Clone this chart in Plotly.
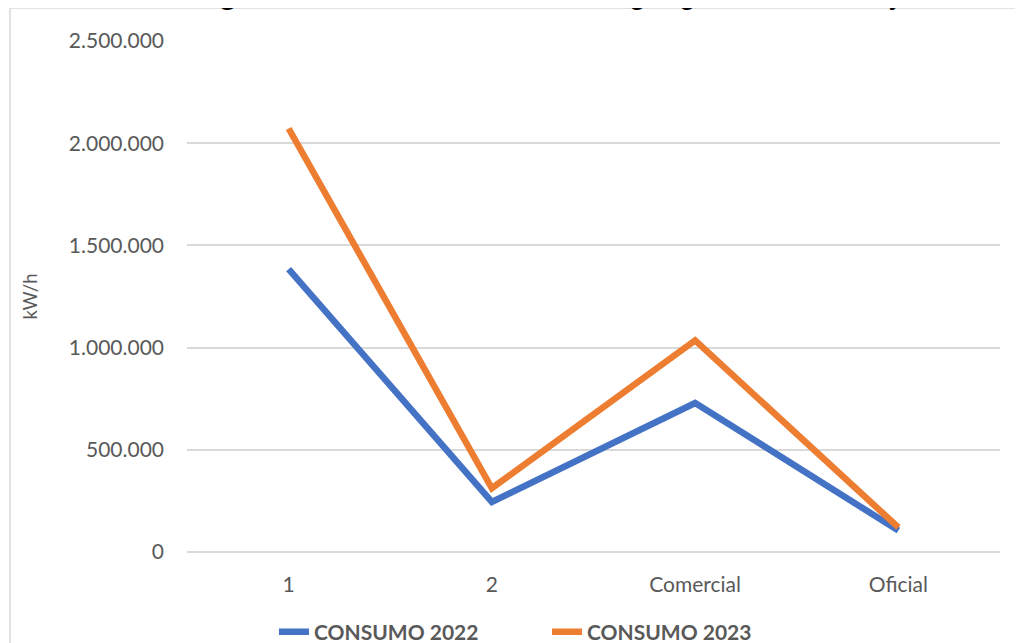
import plotly.graph_objects as go

categories = ["1", "2", "Comercial", "Oficial"]
consumo_2022 = [1384000, 245000, 729000, 105000]
consumo_2023 = [2072000, 312000, 1035000, 120000]
series_names = ["CONSUMO 2022", "CONSUMO 2023"]
y_ticks = [0, 500000, 1000000, 1500000, 2000000, 2500000]
title_text = "<b>Figura 1.</b> Consumo total de energía generada 2022 y 2023"

FONT = "Lato"
GRAY = "#595959"

fig = go.Figure()
for name, vals, color in [(series_names[0], consumo_2022, "#4472C4"),
                          (series_names[1], consumo_2023, "#ED7D31")]:
    fig.add_trace(go.Scatter(x=categories, y=vals, mode="lines", name=name,
                             line=dict(color=color, width=6.5)))

fig.update_layout(
    width=1023, height=643,
    margin=dict(l=179, r=31, t=33, b=99),
    paper_bgcolor="white", plot_bgcolor="white",
    separators=",.",
    font=dict(family=FONT, color=GRAY, size=21),
    showlegend=True,
    legend=dict(orientation="h", xref="container", yref="container",
                x=0.26, xanchor="left", y=0.0295, yanchor="middle",
                font=dict(family=FONT, size=21, color=GRAY, weight="bold"),
                itemwidth=30, entrywidth=228, entrywidthmode="pixels",
                tracegroupgap=0, bgcolor="rgba(0,0,0,0)"),
    xaxis=dict(range=[-0.5, 3.5], showgrid=False, zeroline=False,
               showline=False, ticks="", tickfont=dict(size=21, color=GRAY),
               ticklabelstandoff=18),
    yaxis=dict(range=[0, 2500000], tickvals=y_ticks, tickformat=",d",
               showgrid=True, gridcolor="#D9D9D9", gridwidth=1.5,
               zeroline=True, zerolinecolor="#D9D9D9", zerolinewidth=1.5,
               showline=False, ticks="", tickfont=dict(size=21, color=GRAY),
               ticklabelstandoff=22,
               title=dict(text="kW/h", font=dict(size=18.5, color=GRAY), standoff=26)),
)

# cut-off title at the very top
fig.add_annotation(text=title_text, xref="paper", yref="paper",
                   x=0.49, y=1 + 29/511, yanchor="bottom", xanchor="center",
                   showarrow=False,
                   font=dict(family="Liberation Sans", size=30, color="black"))

# chart-area border
fig.add_shape(type="rect", xref="paper", yref="paper",
              x0=-177/813, x1=1 + 40/813, y0=-200/511, y1=1 + 33/511,
              line=dict(color="#D9D9D9", width=1.5), fillcolor="rgba(0,0,0,0)", layer="below")

fig.write_html("out.html")
